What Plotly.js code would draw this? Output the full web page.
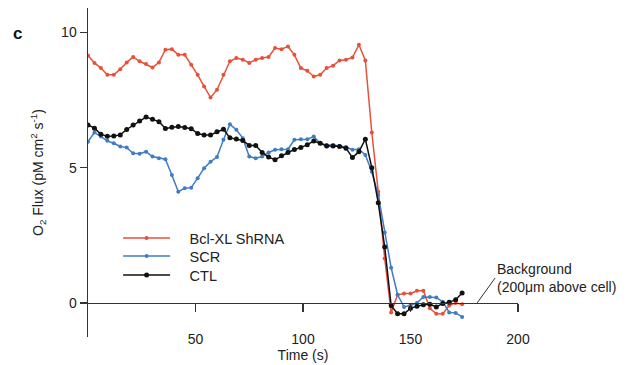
<!DOCTYPE html>
<html>
<head>
<meta charset="utf-8">
<script src="https://cdn.plot.ly/plotly-3.0.1.min.js"></script>
<style>html,body{margin:0;padding:0;background:#fff;}#chart{width:628px;height:365px;}</style>
</head>
<body>
<div id="chart"></div>
<script>
// Time points (s)
const timeS = [0,3,6,9,12,15,18,21,24,27,30,33,36,39,42,45,48,51,54,57,60,63,66,69,72,75,78,81,84,87,90,93,96,99,102,105,108,111,114,117,120,123,126,129,132,135,138,141,144,147,150,153,156,159,162,165,168,171,174];

// O2 flux series (pM cm^2 s^-1)
const bclxlShRNA = [9.14,8.87,8.68,8.43,8.43,8.64,8.89,9.09,8.93,8.83,8.70,8.89,9.36,9.38,9.17,9.17,8.80,8.43,8.00,7.59,7.88,8.43,8.93,9.05,8.99,8.87,8.99,9.05,9.09,9.42,9.38,9.48,9.17,8.68,8.58,8.37,8.43,8.68,8.77,8.96,8.99,9.07,9.54,8.96,6.30,4.11,1.64,-0.35,0.30,0.35,0.35,0.45,0.45,-0.20,-0.40,-0.40,-0.10,0.00,-0.05];

const scr = [5.96,6.30,6.15,5.99,5.90,5.78,5.74,5.53,5.51,5.59,5.41,5.35,5.31,4.73,4.11,4.24,4.26,4.61,4.98,5.22,5.39,6.03,6.60,6.40,6.09,5.41,5.35,5.41,5.56,5.66,5.68,5.68,6.03,6.05,6.05,6.15,5.90,5.84,5.84,5.80,5.76,5.66,5.68,5.47,4.85,3.99,2.60,1.30,0.30,-0.15,-0.09,0.00,0.22,0.22,0.20,0.04,-0.35,-0.37,-0.52];

const ctl = [6.58,6.46,6.23,6.16,6.17,6.21,6.41,6.58,6.72,6.87,6.79,6.70,6.45,6.49,6.52,6.48,6.44,6.26,6.21,6.21,6.33,6.42,6.10,6.06,6.00,5.82,5.82,5.56,5.39,5.29,5.44,5.56,5.67,5.74,5.85,5.98,5.90,5.80,5.80,5.78,5.72,5.37,5.59,6.05,5.00,3.70,2.07,-0.10,-0.40,-0.40,-0.20,-0.12,-0.07,-0.05,-0.15,-0.02,0.02,0.12,0.37];

const seriesNames = ["Bcl-XL ShRNA", "SCR", "CTL"];
const xTicks = [50, 100, 150, 200];
const yTicks = [0, 5, 10];

const FONT = "Liberation Sans, Arial, sans-serif";
const TXT = "#222";
const yMin = -1.26, yMax = 10.9;
const zeroPos = (0 - yMin) / (yMax - yMin);

const traces = [
  {x: timeS, y: bclxlShRNA, name: "\u2003" + seriesNames[0], mode: "lines+markers", legend: "legend",
   line: {color: "#e8503a", width: 1.5}, marker: {color: "#e8503a", size: 4}},
  {x: timeS, y: scr, name: "\u2003" + seriesNames[1], mode: "lines+markers", legend: "legend2",
   line: {color: "#3f7cc4", width: 1.5}, marker: {color: "#3f7cc4", size: 4}},
  {x: timeS, y: ctl, name: "\u2003" + seriesNames[2], mode: "lines+markers", legend: "legend3",
   line: {color: "#111111", width: 1.5}, marker: {color: "#111111", size: 5}}
];

function legendAt(yFrac) {
  return {x: 0.07, y: yFrac, xanchor: "left", yanchor: "middle",
          bgcolor: "rgba(0,0,0,0)", font: {family: FONT, size: 14.5, color: TXT},
          itemwidth: 47};
}

const layout = {
  width: 628, height: 365,
  margin: {l: 88, r: 110, t: 8, b: 28},
  paper_bgcolor: "#fff", plot_bgcolor: "#fff",
  font: {family: FONT, size: 14, color: TXT},
  showlegend: true,
  legend: legendAt(0.301),
  legend2: legendAt(0.246),
  legend3: legendAt(0.188),
  xaxis: {range: [0, 200], anchor: "free", position: zeroPos,
          showline: true, linecolor: "#333", linewidth: 1.5,
          ticks: "outside", ticklen: 8, tickwidth: 1.5, tickcolor: "#333",
          tickvals: xTicks, ticktext: xTicks.map(String),
          ticklabelstandoff: 15,
          showgrid: false, zeroline: false,
          tickfont: {family: FONT, size: 14, color: TXT},
          title: {text: "Time (s)", standoff: 3, font: {family: FONT, size: 14, color: TXT}}},
  yaxis: {range: [yMin, yMax], showline: true, linecolor: "#333", linewidth: 1.5,
          ticks: "outside", ticklen: 7, tickwidth: 1.5, tickcolor: "#333",
          tickvals: yTicks, ticktext: yTicks.map(String),
          showgrid: false, zeroline: false,
          tickfont: {family: FONT, size: 14, color: TXT},
          title: {text: "O<sub>2</sub> Flux (pM cm<sup>2</sup> s<sup>-1</sup>)", standoff: 14,
                  font: {family: FONT, size: 14, color: TXT}}},
  annotations: [
    {xref: "x", yref: "y", x: 181, y: 0, showarrow: true, arrowhead: 0, arrowwidth: 1,
     arrowcolor: "#333", ax: 18, ay: -25, xanchor: "left", yanchor: "middle", align: "left",
     text: "Background<br>(200μm above cell)", font: {family: FONT, size: 14, color: TXT}},
    {xref: "paper", yref: "paper", x: -0.163, y: 0.924, xanchor: "center", yanchor: "middle",
     showarrow: false, text: "<b>c</b>", font: {family: FONT, size: 17, color: "#111"}}
  ]
};

Plotly.newPlot("chart", traces, layout, {displayModeBar: false, staticPlot: true});
</script>
</body>
</html>
